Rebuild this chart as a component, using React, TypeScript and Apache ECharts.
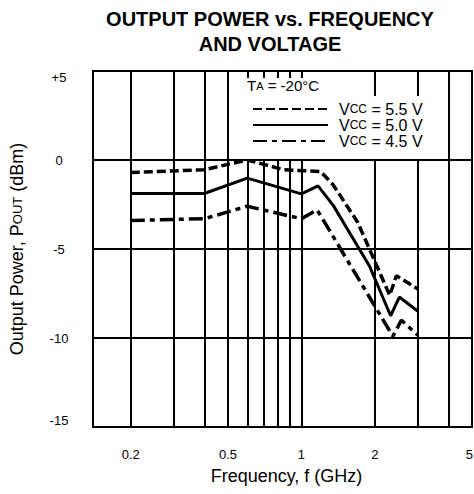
import { useEffect, useRef } from 'react';
import * as echarts from 'echarts';

// ---- data ----
const seriesNames = ['VCC = 5.5 V', 'VCC = 5.0 V', 'VCC = 4.5 V'];
const freq55 = [0.2, 0.4, 0.6, 0.85, 1.2, 1.35, 1.7, 1.9, 2.3, 2.45, 3.0];
const pout55 = [-0.7, -0.55, 0.0, -0.55, -0.65, -1.4, -3.5, -5.0, -7.6, -6.5, -7.25];
const freq50 = [0.2, 0.4, 0.6, 1.0, 1.17, 1.35, 1.9, 2.32, 2.52, 3.0];
const pout50 = [-1.88, -1.88, -1.02, -1.9, -1.45, -2.55, -5.95, -8.75, -7.7, -8.5];
const freq45 = [0.2, 0.4, 0.6, 1.0, 1.16, 2.37, 2.57, 3.0];
const pout45 = [-3.4, -3.3, -2.6, -3.3, -2.8, -9.9, -9.0, -9.85];
const gridFreqs = [0.2, 0.3, 0.4, 0.5, 0.6, 0.7, 0.8, 0.9, 1, 2, 3, 4, 5];
const xTickLabels = [0.2, 0.5, 1, 2, 5];
const xMin = 0.14;
const xMax = 5;
const yMin = -15;
const yMax = 5;
const yStep = 5;

const FONT = '"Liberation Sans", Arial, Helvetica, sans-serif';

const pair = (f: number[], p: number[]) => f.map((x, i) => [x, p[i]]);

export default function App() {
  const ref = useRef<HTMLDivElement>(null);
  useEffect(() => {
    if (!ref.current) return;
    const chart = echarts.init(ref.current, undefined, { renderer: 'svg' });
    const lineStyles = [
      { width: 3.5, type: [9, 4] },
      { width: 3, type: 'solid' },
      { width: 3.5, type: [14, 5, 5, 5] },
    ];
    const datasets = [pair(freq55, pout55), pair(freq50, pout50), pair(freq45, pout45)];
    const series: any[] = seriesNames.map((name, i) => ({
      name,
      type: 'line',
      data: datasets[i],
      symbol: 'none',
      showSymbol: false,
      color: '#000',
      lineStyle: { color: '#000', ...lineStyles[i] },
      silent: true,
      z: 3,
    }));
    const lastLabel = xTickLabels[xTickLabels.length - 1];
    series[0].markLine = {
      z: 1,
      silent: true,
      symbol: ['none', 'none'],
      lineStyle: { color: '#000', width: 2, type: 'solid' },
      emphasis: { disabled: true },
      data: gridFreqs.map((f) => ({
        xAxis: f,
        label: {
          show: xTickLabels.includes(f),
          position: 'start',
          distance: 21,
          formatter: String(f),
          color: '#000',
          fontSize: 13,
          fontFamily: FONT,
          align: f === lastLabel ? 'right' : 'center',
          offset: f === lastLabel ? [1, 0] : [0, 0],
        },
      })),
    };

    chart.setOption({
      animation: false,
      backgroundColor: '#fff',
      grid: {
        left: 92,
        right: 2,
        top: 71,
        bottom: 67,
        show: true,
        borderColor: '#000',
        borderWidth: 2,
        backgroundColor: 'transparent',
      },
      xAxis: {
        type: 'log',
        logBase: 10,
        min: xMin,
        max: xMax,
        name: 'Frequency, f (GHz)',
        nameLocation: 'middle',
        nameGap: 40,
        nameTextStyle: { fontSize: 18, color: '#000', fontFamily: FONT, padding: [0, 0, 0, 8] },
        axisLine: { show: true, lineStyle: { color: '#000', width: 2 } },
        axisTick: { show: false },
        axisLabel: { show: false },
        splitLine: { show: false },
        minorTick: { show: false },
        minorSplitLine: { show: false },
      },
      yAxis: {
        type: 'value',
        min: yMin,
        max: yMax,
        interval: yStep,
        name: 'Output Power, P{s|OUT} (dBm)',
        nameLocation: 'middle',
        nameGap: 67,
        nameTextStyle: {
          fontSize: 18,
          color: '#000',
          fontFamily: FONT,
          rich: { s: { fontSize: 13, color: '#000', fontFamily: FONT } },
        },
        axisLine: { show: true, lineStyle: { color: '#000', width: 2 } },
        axisTick: { show: false },
        axisLabel: {
          color: '#000',
          fontSize: 13,
          fontFamily: FONT,
          align: 'center',
          margin: 34,
          verticalAlignMinLabel: 'bottom',
          verticalAlignMaxLabel: 'top',
          formatter: (v: number) => (v > 0 ? '+' + v : String(v)),
        },
        splitLine: { show: true, lineStyle: { color: '#000', width: 2 } },
      },
      legend: {
        data: seriesNames,
        orient: 'vertical',
        left: 243,
        top: 96,
        itemWidth: 75,
        itemHeight: 12,
        itemGap: 0,
        selectedMode: false,
        backgroundColor: '#fff',
        padding: [5, 4, 10, 9],
        itemStyle: { color: 'rgba(0,0,0,0)', borderColor: 'rgba(0,0,0,0)', borderWidth: 0, opacity: 0 },
        formatter: (n: string) => n.replace('VCC', 'V{s|CC}'),
        textStyle: {
          fontSize: 16,
          lineHeight: 15,
          color: '#000',
          fontFamily: FONT,
          padding: [0, 0, 0, 6],
          rich: { s: { fontSize: 12, lineHeight: 15, color: '#000', fontFamily: FONT } },
        },
      },
      graphic: [
        {
          type: 'text',
          x: 270,
          y: 6,
          z: 100,
          style: {
            text: 'OUTPUT POWER vs. FREQUENCY\nAND VOLTAGE',
            fontSize: 20,
            fontWeight: 'bold',
            fontFamily: FONT,
            lineHeight: 25,
            textAlign: 'center',
            fill: '#000',
          },
        },
        {
          type: 'rect',
          x: 243,
          y: 78,
          z: 99,
          shape: { width: 88, height: 22 },
          style: { fill: '#fff', stroke: 'none' },
        },
        {
          type: 'text',
          x: 247,
          y: 78,
          z: 100,
          style: {
            text: 'T{s|A} = -20°C',
            fontSize: 15,
            fontFamily: FONT,
            fill: '#000',
            rich: { s: { fontSize: 11, fill: '#000', fontFamily: FONT } },
          },
        },
      ],
      series,
    });
    return () => chart.dispose();
  }, []);
  return (
    <div
      ref={ref}
      style={{ position: 'absolute', left: 0, top: 0, width: 474, height: 494, background: '#fff' }}
    />
  );
}
